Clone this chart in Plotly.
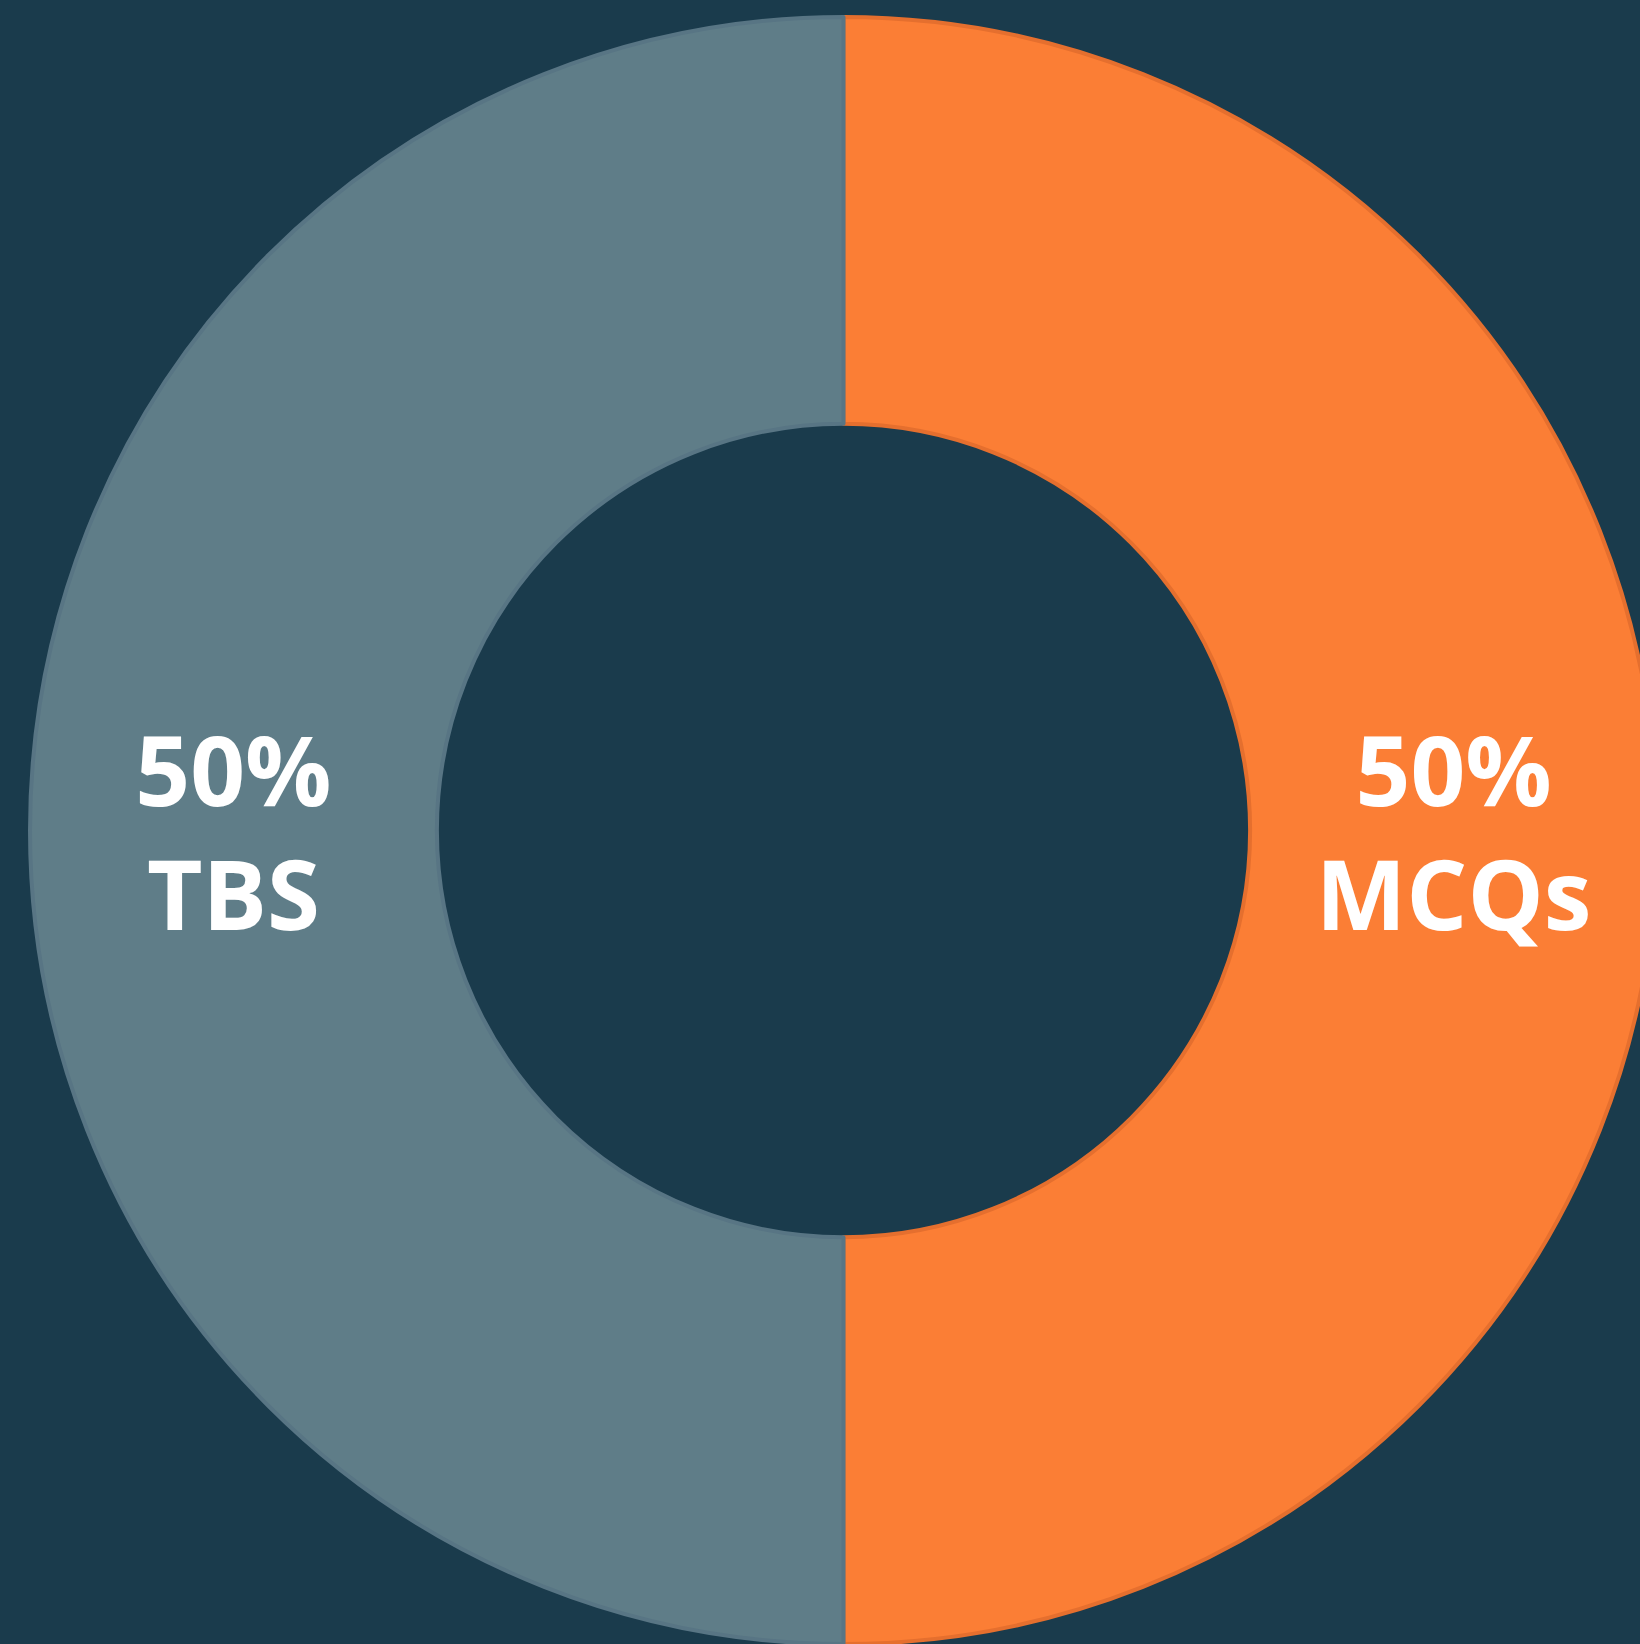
import plotly.graph_objects as go

labels = ["MCQs", "TBS"]
values = [50, 50]
slice_colors = ["#FB7E35", "#5F7D88"]
edge_colors = ["#E56F2E", "#587584"]

fig = go.Figure(
    go.Pie(
        labels=labels,
        values=values,
        hole=0.5,
        sort=False,
        direction="clockwise",
        rotation=0,
        marker=dict(colors=slice_colors, line=dict(color=edge_colors, width=4)),
        texttemplate="%{percent:.0%}<br>%{label}",
        textposition="inside",
        insidetextorientation="horizontal",
        textfont=dict(family="Open Sans", size=96, color="#FFFFFF", weight="bold"),
        showlegend=False,
        hoverinfo="label+percent",
    )
)

fig.update_layout(
    width=1657,
    height=1644,
    margin=dict(l=30, r=0, t=17, b=0, pad=0),
    paper_bgcolor="#1A3B4C",
    plot_bgcolor="#1A3B4C",
    uniformtext=dict(minsize=96, mode="show"),
)

post = """
document.documentElement.style.margin='0';
document.documentElement.style.overflow='hidden';
document.documentElement.style.background='#1A3B4C';
document.body.style.margin='0';
document.body.style.overflow='hidden';
document.body.style.background='#1A3B4C';
"""

fig.write_html("out.html", post_script=post, config={"displayModeBar": False})
